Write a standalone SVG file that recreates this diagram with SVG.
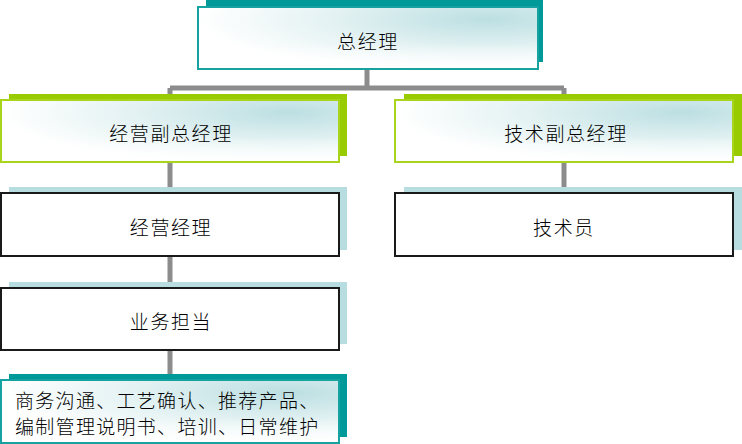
<svg xmlns="http://www.w3.org/2000/svg" width="742" height="444" viewBox="0 0 742 444">
<defs>
<radialGradient id="g" cx="0.85" cy="0.2" r="0.85" fx="0.85" fy="0.2">
<stop offset="0" stop-color="#bcdfe2"/>
<stop offset="0.55" stop-color="#e4f2f3"/>
<stop offset="1" stop-color="#ffffff"/>
</radialGradient>
<linearGradient id="fade" x1="0" y1="0" x2="0" y2="1">
<stop offset="0.6" stop-color="#ffffff" stop-opacity="0"/>
<stop offset="1" stop-color="#ffffff" stop-opacity="0.8"/>
</linearGradient>
</defs>
<style>
.t{font-family:"Noto Sans CJK SC","Liberation Sans",sans-serif;font-size:19px;font-weight:300;fill:#000;letter-spacing:1.6px;text-anchor:middle;dominant-baseline:central}
.tl{font-family:"Noto Sans CJK SC","Liberation Sans",sans-serif;font-size:19px;font-weight:300;fill:#000;letter-spacing:1.3px}
.shT{fill:#009999}
.shG{fill:#99cc00}
.shL{fill:#b7dde0}
.mT{fill:url(#g);stroke:#17a2a2;stroke-width:2}
.mG{fill:url(#g);stroke:#a8d41c;stroke-width:2}
.mW{fill:#ffffff;stroke:#1a1a1a;stroke-width:2}
.ov{fill:url(#fade)}
.c{stroke:#8c8c8c;stroke-width:5;fill:none}
</style>
<g id="connectors">
<path class="c" d="M367 69 V88 M170 88 H564 M170 88 V380 M564 88 V193"/>
</g>
<g id="n1">
<rect class="shT" x="206" y="0" width="337" height="62"/>
<rect class="mT" x="198" y="7" width="340" height="62"/>
<rect class="ov" x="199" y="8" width="338" height="60"/>
<text class="t" x="368" y="40">总经理</text>
</g>
<g id="n2">
<rect class="shG" x="9" y="94" width="338" height="62"/>
<rect class="mG" x="1" y="100" width="338" height="62"/>
<rect class="ov" x="2" y="101" width="336" height="60"/>
<text class="t" x="171" y="132">经营副总经理</text>
</g>
<g id="n3">
<rect class="shG" x="404" y="94" width="338" height="62"/>
<rect class="mG" x="395" y="100" width="338" height="62"/>
<rect class="ov" x="396" y="101" width="336" height="60"/>
<text class="t" x="566" y="132">技术副总经理</text>
</g>
<g id="n4">
<rect class="shL" x="9" y="187" width="338" height="63"/>
<rect class="mW" x="1" y="193" width="338" height="63"/>
<text class="t" x="171" y="226">经营经理</text>
</g>
<g id="n5">
<rect class="shL" x="404" y="187" width="338" height="63"/>
<rect class="mW" x="395" y="193" width="338" height="63"/>
<text class="t" x="564" y="226">技术员</text>
</g>
<g id="n6">
<rect class="shL" x="9" y="282" width="338" height="62"/>
<rect class="mW" x="1" y="288" width="338" height="62"/>
<text class="t" x="171" y="320">业务担当</text>
</g>
<g id="n7">
<rect class="shT" x="9" y="374" width="338" height="63"/>
<rect class="mT" x="1" y="380" width="338" height="63"/>
<rect class="ov" x="2" y="381" width="336" height="61"/>
<text class="tl" x="15" y="408">商务沟通、工艺确认、推荐产品、</text>
<text class="tl" x="15" y="434">编制管理说明书、培训、日常维护</text>
</g>
</svg>
